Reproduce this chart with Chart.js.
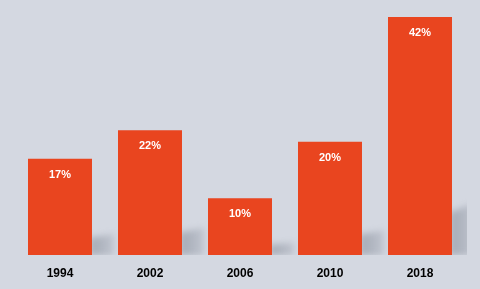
<!DOCTYPE html>
<html>
<head>
<meta charset="utf-8">
<script src="https://cdn.jsdelivr.net/npm/chart.js@4/dist/chart.umd.min.js"></script>
<style>
  html, body { margin: 0; padding: 0; background: #d4d8e1; }
  #wrap { width: 480px; height: 289px; }
</style>
</head>
<body>
<div id="wrap"><canvas id="chart" width="480" height="289"></canvas></div>
<script>
const years = ['1994', '2002', '2006', '2010', '2018'];
const shares = [17, 22, 10, 20, 42];
const barColor = '#e9451f';

// soft floor shadow to the right of each bar
const barShadow = {
  id: 'barShadow',
  beforeDatasetsDraw(chart) {
    const ctx = chart.ctx;
    const area = chart.chartArea;
    ctx.save();
    ctx.beginPath();
    ctx.rect(area.left - 20, area.top, area.right - area.left + 22, area.bottom - area.top);
    ctx.clip();
    ctx.filter = 'blur(3px)';
    chart.getDatasetMeta(0).data.forEach(bar => {
      const r = bar.x + bar.width / 2;
      const base = bar.base;
      const h = base - bar.y;
      const s = h * 0.18;
      const k = h * 0.04;
      const g = ctx.createLinearGradient(r, 0, r + 26, 0);
      g.addColorStop(0, 'rgba(150,156,168,0.75)');
      g.addColorStop(0.7, 'rgba(160,166,178,0.5)');
      g.addColorStop(1, 'rgba(175,181,191,0.0)');
      ctx.fillStyle = g;
      ctx.beginPath();
      ctx.moveTo(r - 2, base);
      ctx.lineTo(r - 2, base - s);
      ctx.lineTo(r + 24, base - s - k);
      ctx.lineTo(r + 24, base);
      ctx.closePath();
      ctx.fill();
    });
    ctx.restore();
  }
};

// percentage labels inside the bars
const barLabels = {
  id: 'barLabels',
  afterDatasetsDraw(chart) {
    const ctx = chart.ctx;
    ctx.save();
    ctx.fillStyle = '#ffffff';
    ctx.font = 'bold 11px "Liberation Sans", Arial, sans-serif';
    ctx.textAlign = 'center';
    ctx.textBaseline = 'middle';
    chart.getDatasetMeta(0).data.forEach((bar, i) => {
      ctx.fillText(shares[i] + '%', bar.x, bar.y + 16);
    });
    ctx.restore();
  }
};

new Chart(document.getElementById('chart').getContext('2d'), {
  type: 'bar',
  data: {
    labels: years,
    datasets: [{
      data: shares,
      backgroundColor: barColor,
      borderWidth: 0,
      categoryPercentage: 1,
      barPercentage: 0.711
    }]
  },
  options: {
    responsive: false,
    animation: false,
    layout: { padding: { left: 15, right: 15, top: 0, bottom: 0 } },
    plugins: { legend: { display: false }, tooltip: { enabled: false } },
    scales: {
      x: {
        grid: { display: false, drawTicks: false },
        border: { display: false },
        afterFit(axis) { axis.height = 34; },
        ticks: {
          color: '#000000',
          padding: 11,
          font: { family: '"Liberation Sans", Arial, sans-serif', size: 12, weight: 'bold' }
        }
      },
      y: {
        display: false,
        min: 0,
        max: 45
      }
    }
  },
  plugins: [barShadow, barLabels]
});
</script>
</body>
</html>
